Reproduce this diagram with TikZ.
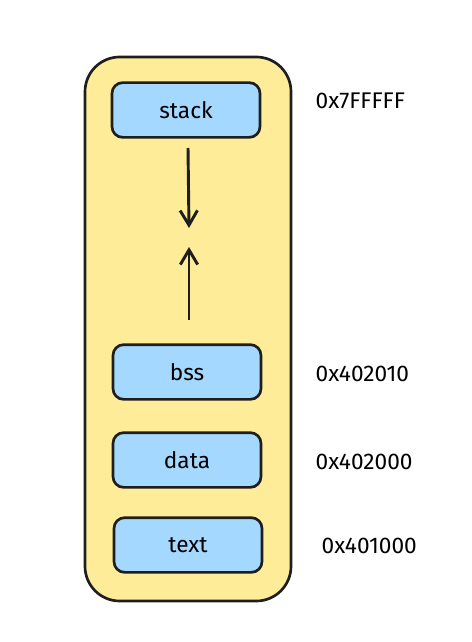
\documentclass[tikz,border=0pt]{standalone}
\usepackage{fontspec}
\setmainfont{Fira Sans}
\usetikzlibrary{positioning,arrows.meta}
\definecolor{memyellow}{HTML}{FFEC99}
\definecolor{segblue}{HTML}{A5D8FF}
\definecolor{ink}{HTML}{1E1E1E}

\begin{document}
\begin{tikzpicture}[x=0.75pt,y=-0.75pt,
  segment/.style={draw=ink, fill=segblue, line width=2pt, rounded corners=8pt,
    minimum width=111pt, minimum height=41pt, font=\fontsize{17}{20}\selectfont},
  addr/.style={anchor=west, font=\fontsize{17}{20}\selectfont},
  growth/.style={draw=ink, line width=2.2pt, -{Straight Barb[length=11pt,width=13pt]}}]
 \useasboundingbox (0,0) rectangle (471,642);

    % Memory
    \draw[draw=ink, fill=memyellow, line width=2pt, rounded corners=26pt] (85,57) rectangle (291,601);

    % Segments
    \node[segment] (stack) at (186,110) {stack};
    \node[segment] (bss) at (187,372) {bss};
    \node[segment] (data) at (187,460) {data};
    \node[segment] (text) at (188,545) {text};

    % Addresses
    \node[addr] (astack) at (311,101) {0x7FFFFF};
    \node[addr] (abss) at (311,374) {0x402010};
    \node[addr] (adata) at (311,462) {0x402000};
    \node[addr] (atext) at (317,546) {0x401000};

    % growth
    \coordinate (sfrom) at (188,148);
    \coordinate (sto) at (189,228);
    \coordinate (hfrom) at (189,320);
    \coordinate (hto) at (189,247);
    \draw[growth] (sfrom) -- (sto);
    \draw[growth] (hfrom) -- (hto);
\end{tikzpicture}
\end{document}
